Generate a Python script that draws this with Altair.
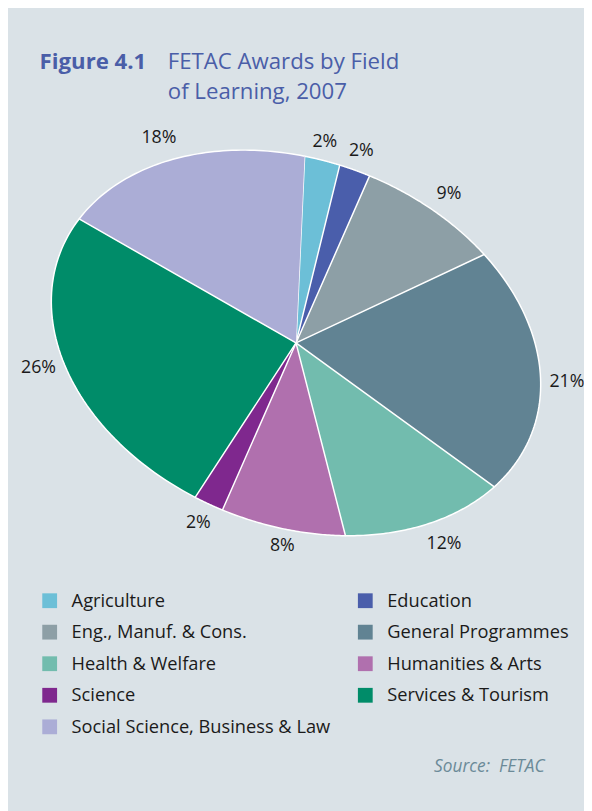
import altair as alt
import pandas as pd

# ---- data (percent share of FETAC awards, 2007) ----
categories = [
    "Agriculture", "Education", "Eng., Manuf. & Cons.", "General Programmes",
    "Health & Welfare", "Humanities & Arts", "Science", "Services & Tourism",
    "Social Science, Business & Law",
]
values = [2.3, 2.0, 9.1, 21.0, 11.8, 8.1, 1.9, 25.9, 17.9]
colors = ["#6cbfd7", "#4a5eab", "#8d9fa6", "#618393", "#72bcae",
          "#b070ae", "#7f288e", "#008c69", "#abadd6"]

title_bold = "Figure 4.1"
title_lines = ["FETAC Awards by Field", "of Learning, 2007"]
source_text = "Source:\u00a0\u00a0FETAC"

df = pd.DataFrame({"category": categories, "value": values, "idx": list(range(len(values)))})

# ---- layout constants (chart pixel units) ----
W, H = 584, 803
CX, CY = 292, 334          # ellipse centre
A, B = 256, 185            # semi-axes
PHI = 0.365                # rotation of the ellipse (rad)
T0 = -1.805                # start angle (rad), clockwise on screen
N = 60
GAP = 8                    # gap between pie edge and label box
FONT = "Open Sans"

xs = alt.Scale(domain=[0, W], range=[0, W], nice=False, zero=False)
ys = alt.Scale(domain=[0, H], range=[0, H], nice=False, zero=False)

cosp = f"cos({PHI})"
sinp = f"sin({PHI})"

base = alt.Chart(df).transform_window(
    cum="sum(value)", sort=[alt.SortField("idx")]
).transform_joinaggregate(total="sum(value)")

sectors = base.transform_calculate(
    k=f"sequence(0, {N + 2})"
).transform_flatten(["k"]).transform_calculate(
    frac=f"datum.k == 0 ? 0 : (datum.cum - datum.value + datum.value * (datum.k - 1) / {N}) / datum.total"
).transform_calculate(
    t=f"{T0} + 2 * PI * datum.frac"
).transform_calculate(
    px=f"datum.k == 0 ? {CX} : {CX} + {A} * cos(datum.t) * {cosp} - {B} * sin(datum.t) * {sinp}",
    py=f"datum.k == 0 ? {CY} : {CY} + {A} * cos(datum.t) * {sinp} + {B} * sin(datum.t) * {cosp}",
).mark_line(stroke="white", strokeWidth=1.5, strokeJoin="round").encode(
    x=alt.X("px:Q", scale=xs, axis=None),
    y=alt.Y("py:Q", scale=ys, axis=None),
    fill=alt.Fill(
        "category:N",
        scale=alt.Scale(domain=categories, range=colors),
        sort=categories,
        legend=alt.Legend(
            orient="none", legendX=33, legendY=586, columns=2, direction="horizontal",
            symbolType="square", symbolSize=225, symbolStrokeWidth=0,
            labelFont=FONT, labelFontSize=18.5, labelColor="#1a1a1a",
            labelOffset=13, rowPadding=13, columnPadding=26, title=None,
            labelLimit=400,
        ),
    ),
    detail="category:N",
    order=alt.Order("k:Q"),
)

labels = base.transform_calculate(
    tm=f"{T0} + 2 * PI * (datum.cum - datum.value / 2) / datum.total",
    lab="format(datum.value, '.0f') + '%'",
).transform_calculate(
    ex=f"{A} * cos(datum.tm) * {cosp} - {B} * sin(datum.tm) * {sinp}",
    ey=f"{A} * cos(datum.tm) * {sinp} + {B} * sin(datum.tm) * {cosp}",
).transform_calculate(
    d="sqrt(datum.ex * datum.ex + datum.ey * datum.ey)",
    hw="(length(datum.lab) - 1) * 5.2 + 7.5",
).transform_calculate(
    ux="datum.ex / datum.d",
    uy="datum.ey / datum.d",
).transform_calculate(
    off=f"{GAP} + abs(datum.ux) * datum.hw + abs(datum.uy) * 9",
).transform_calculate(
    lx=f"{CX} + datum.ex + datum.ux * datum.off",
    ly=f"{CY} + datum.ey + datum.uy * datum.off",
).mark_text(font=FONT, fontSize=18, color="#1a1a1a", align="center", baseline="middle").encode(
    x=alt.X("lx:Q", scale=xs, axis=None),
    y=alt.Y("ly:Q", scale=ys, axis=None),
    text="lab:N",
)

t1 = alt.Chart(pd.DataFrame({"t": [title_bold]})).mark_text(
    font=FONT, fontSize=22.5, fontWeight="bold", color="#4a5ea8", align="left", baseline="alphabetic"
).encode(x=alt.value(32), y=alt.value(56), text="t:N")

t2 = alt.Chart(pd.DataFrame({"t": [0]})).mark_text(
    font=FONT, fontSize=22.5, color="#4a5ea8", align="left", baseline="alphabetic", lineHeight=31
).encode(x=alt.value(162), y=alt.value(56), text=alt.value(title_lines))

src = alt.Chart(pd.DataFrame({"t": [source_text]})).mark_text(
    font=FONT, fontSize=17.5, fontStyle="italic", color="#6b8a98", align="right", baseline="alphabetic"
).encode(x=alt.value(544), y=alt.value(769), text="t:N")

chart = alt.layer(sectors, labels, t1, t2, src).properties(
    width=W, height=H, padding=0, autosize=alt.AutoSizeParams(type="none"),
    background="#dae2e7",
).configure_view(stroke=None)

chart.save("out.html", embed_options={"renderer": "svg", "actions": False})
